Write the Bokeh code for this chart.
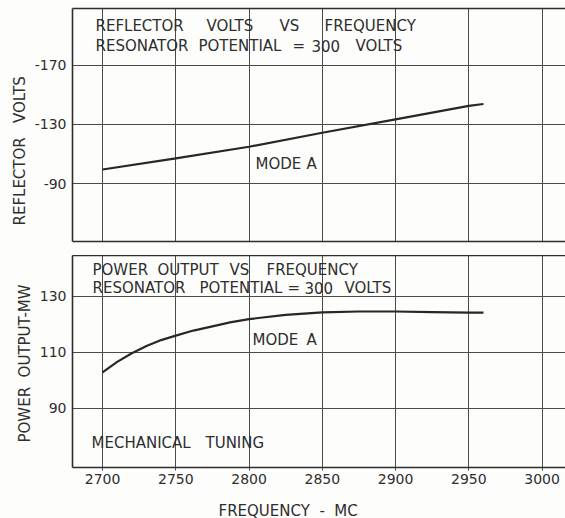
from bokeh.plotting import figure
from bokeh.layouts import column
from bokeh.models import Range1d, FixedTicker, Label, Title, LinearAxis
from bokeh.embed import file_html
from bokeh.resources import INLINE

# ---- data ----
freq_ticks = [2700, 2750, 2800, 2850, 2900, 2950, 3000]
volt_ticks = [-170, -130, -90]
power_ticks = [90, 110, 130]

refl_freq = [2700, 2750, 2800, 2850, 2900, 2950, 2960]
refl_volts = [-99.5, -107.0, -114.9, -124.4, -133.5, -142.6, -143.9]

pow_freq = [2700, 2710, 2720, 2730, 2740, 2750, 2762, 2775, 2787, 2800, 2825, 2850,
            2875, 2900, 2925, 2950, 2960]
pow_mw = [102.9, 106.6, 109.7, 112.3, 114.4, 116.0, 117.8, 119.3, 120.7, 121.9, 123.4,
          124.3, 124.6, 124.6, 124.4, 124.2, 124.2]

X0, X1 = 2679.5, 3016.0
TOP_Y = (-50.7, -208.6)
BOT_Y = (68.9, 144.6)

BG = "#fdfdfb"
INK = "#2e2e2e"
GRID = "#4a4a4a"
FONT = "DejaVu Sans"
NB = "\u00a0"

FRAME_L, FRAME_R = 72, 565


def px_to_x(px):
    return X0 + (px - FRAME_L) * (X1 - X0) / (FRAME_R - FRAME_L)


def frame_axis(ax, ticks, tick_out=0, standoff=0):
    ax.ticker = FixedTicker(ticks=ticks)
    ax.axis_line_color = INK
    ax.axis_line_width = 1.6
    ax.major_tick_line_color = GRID
    ax.major_tick_in = 0
    ax.major_tick_out = tick_out
    ax.minor_tick_line_color = None
    ax.major_label_standoff = standoff
    ax.major_label_text_font = FONT
    ax.major_label_text_font_size = "14px"
    ax.major_label_text_color = INK


def base(height, y_range, border_top, border_bottom, x_ticks, y_ticks):
    p = figure(width=565, height=height, output_backend="svg", toolbar_location=None,
               title=None, x_range=Range1d(X0, X1), y_range=Range1d(*y_range),
               min_border_left=FRAME_L, min_border_right=0, min_border_top=border_top,
               min_border_bottom=border_bottom)
    p.background_fill_color = BG
    p.border_fill_color = BG
    p.outline_line_color = None
    xax = p.below[0]
    yax = p.left[0]
    frame_axis(xax, x_ticks, tick_out=3, standoff=3)
    frame_axis(yax, y_ticks, tick_out=0, standoff=6)
    for g in (p.xgrid[0], p.ygrid[0]):
        g.grid_line_color = GRID
        g.grid_line_width = 1
    p.xgrid[0].ticker = FixedTicker(ticks=freq_ticks)
    p.ygrid[0].ticker = FixedTicker(ticks=y_ticks)
    top_line = LinearAxis()
    frame_axis(top_line, [])
    p.add_layout(top_line, "above")
    return p, xax, yax


def words(p, y, items):
    for px, w in items:
        p.add_layout(Label(x=px_to_x(px), y=y, text=w, text_font=FONT,
                           text_font_size="15px", text_color=INK,
                           text_align="left", text_baseline="middle"))


def side_title(p, text, offset):
    p.add_layout(Title(text=text, align="left", offset=offset, standoff=4,
                       text_font=FONT, text_font_size="15px", text_color=INK,
                       text_font_style="normal", vertical_align="middle"), "left")


# ---- top panel: page y 8..241 ----
top, top_x, top_yax = base(255, TOP_Y, 8, 14, [], volt_ticks)
top_yax.major_label_overrides = {v: "-%d" % abs(v) for v in volt_ticks}
top.line(refl_freq, refl_volts, line_color="#2a2624", line_width=2.2)


def ty(py):
    return TOP_Y[1] + (py - 8) * (TOP_Y[0] - TOP_Y[1]) / (241 - 8)


words(top, ty(25), [(95, "REFLECTOR"), (206, "VOLTS"), (279, "VS"), (324, "FREQUENCY")])
words(top, ty(45), [(95, "RESONATOR"), (198, "POTENTIAL"), (292, "="), (311, "300"), (355, "VOLTS")])
words(top, ty(163), [(255, "MODE"), (306, "A")])
side_title(top, f"REFLECTOR{NB*3}VOLTS", 16)

# ---- bottom panel: page y 255..467 ----
bot, bot_x, bot_yax = base(237, BOT_Y, 0, 25, freq_ticks, power_ticks)
bot.line(pow_freq, pow_mw, line_color="#2a2624", line_width=2.2)


def by(py):
    return BOT_Y[1] - (py - 255) * (BOT_Y[1] - BOT_Y[0]) / (467 - 255)


words(bot, by(269), [(92, "POWER"), (157, "OUTPUT"), (229, "VS"), (266, "FREQUENCY")])
words(bot, by(287), [(92, "RESONATOR"), (199, "POTENTIAL"), (287, "="), (304, "300"), (344, "VOLTS")])
words(bot, by(339), [(252, "MODE"), (306, "A")])
words(bot, by(442), [(91, "MECHANICAL"), (205, "TUNING")])
side_title(bot, f"POWER{NB*2}OUTPUT-MW", 25)

# ---- x-axis caption strip: page y 492..518 (frame aligned with the panels) ----
cap = figure(width=565, height=26, output_backend="svg", toolbar_location=None,
             title=None, x_range=Range1d(X0, X1), y_range=Range1d(518, 492),
             x_axis_location=None, y_axis_location=None,
             min_border_left=FRAME_L, min_border_right=0, min_border_top=0,
             min_border_bottom=0)
cap.background_fill_color = BG
cap.border_fill_color = BG
cap.outline_line_color = None
cap.grid.visible = False
cap.add_layout(Label(x=px_to_x(218), y=510, text=f"FREQUENCY{NB*2}-{NB*2}MC",
                     text_font=FONT, text_font_size="15px", text_color=INK,
                     text_align="left", text_baseline="middle"))

layout = column(top, bot, cap, spacing=0)
open("out.html", "w").write(file_html(layout, INLINE))
